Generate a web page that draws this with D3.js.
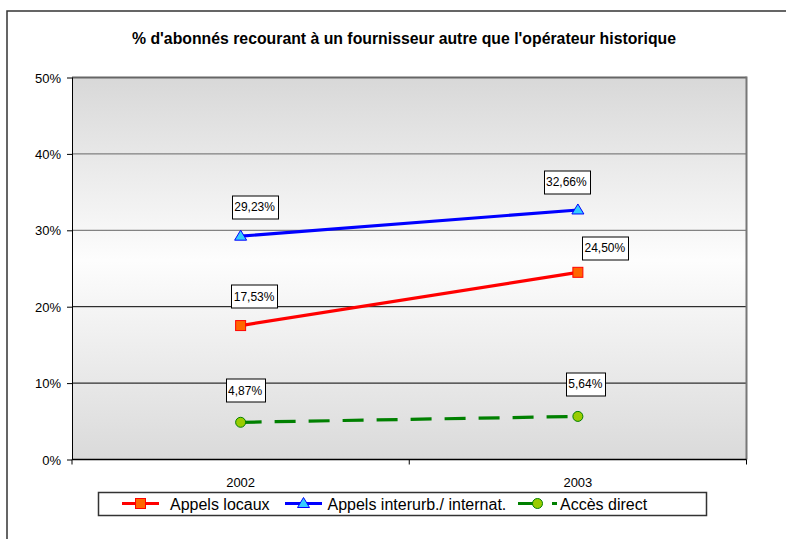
<!DOCTYPE html>
<html>
<head>
<meta charset="utf-8">
<script src="https://cdn.jsdelivr.net/npm/d3@7"></script>
<style>
  body { margin: 0; background: #fff; }
  text { font-family: Arial, "Liberation Sans", sans-serif; fill: #000; }
</style>
</head>
<body>
<div id="chart"></div>
<script>
// chart values
const years = ["2002", "2003"]
const locaux = [17.53, 24.50]
const interurb = [29.23, 32.66]
const direct = [4.87, 5.64]
const yTicks = [0, 10, 20, 30, 40, 50]
const seriesNames = ["Appels locaux", "Appels interurb./ internat.", "Accès direct"]
const title = "% d'abonnés recourant à un fournisseur autre que l'opérateur historique"

// label nudges (box centre relative to point), like the manual placement in the original
const labelNudge = [
    [[13.5, -29.5], [27, -24.5]],
    [[14, -29.5], [-11.5, -28.3]],
    [[4.5, -32], [7.5, -32.7]]
]

const W = 786, H = 539
const margin = { top: 77.5, right: 40, bottom: 79.5, left: 72 },
    width = 746.5 - margin.left,
    height = 459.5 - margin.top

const svg = d3.select("#chart").append("svg")
    .attr("width", W)
    .attr("height", H)

// outer frame
svg.append("rect")
    .attr("x", 7).attr("y", 11)
    .attr("width", 800).attr("height", 560)
    .attr("fill", "#fff")
    .attr("stroke", "#333").attr("stroke-width", 1.5)

// title
svg.append("text")
    .attr("x", 404).attr("y", 43.5)
    .attr("text-anchor", "middle")
    .style("font-weight", "bold")
    .style("font-size", "16px")
    .attr("textLength", 544)
    .attr("lengthAdjust", "spacingAndGlyphs")
    .text(title)

// plot background gradient
const defs = svg.append("defs")
const grad = defs.append("linearGradient")
    .attr("id", "bg").attr("x1", 0).attr("y1", 0).attr("x2", 0).attr("y2", 1)
grad.append("stop").attr("offset", "0%").attr("stop-color", "#d8d8d8")
grad.append("stop").attr("offset", "48%").attr("stop-color", "#fdfdfd")
grad.append("stop").attr("offset", "100%").attr("stop-color", "#dadada")

const g = svg.append("g")
    .attr("transform", "translate(" + margin.left + "," + margin.top + ")")

g.append("rect")
    .attr("width", width).attr("height", height)
    .attr("fill", "url(#bg)")

var x = d3.scaleBand()
    .domain(years)
    .range([0, width])
var y = d3.scaleLinear()
    .domain([0, 50])
    .range([height, 0])

// gridlines
g.append("g")
    .selectAll("line")
    .data(yTicks.slice(1))
    .enter()
    .append("line")
    .attr("x1", 0).attr("x2", width)
    .attr("y1", d => y(d)).attr("y2", d => y(d))
    .attr("stroke", d => d >= 30 ? "#666" : "#000")
    .attr("stroke-width", d => d == 50 ? 2 : 1)

// right border of plot area
g.append("line")
    .attr("x1", width).attr("x2", width)
    .attr("y1", -1).attr("y2", height)
    .attr("stroke", "#777").attr("stroke-width", 2)

// y axis
const yAxis = g.append("g")
    .call(d3.axisLeft(y).tickValues(yTicks).tickSize(5).tickPadding(6).tickFormat(d => d + "%"))
yAxis.select(".domain").attr("stroke", "#000").attr("d", "M0.5,0V" + height)
yAxis.selectAll("text").style("font-size", "13px").attr("dy", "0.36em")
yAxis.selectAll("line").attr("stroke", "#000")

// x axis with category separators
const xAxis = g.append("g")
    .attr("transform", "translate(0," + height + ")")
xAxis.append("line")
    .attr("x1", 0).attr("x2", width)
    .attr("stroke", "#000").attr("stroke-width", 1.5)
xAxis.selectAll(".sep")
    .data([0, 1, 2])
    .enter()
    .append("line")
    .attr("x1", d => d * x.step()).attr("x2", d => d * x.step())
    .attr("y1", 0).attr("y2", 5)
    .attr("stroke", "#000")
xAxis.selectAll(".lab")
    .data(years)
    .enter()
    .append("text")
    .attr("x", d => x(d) + x.bandwidth() / 2)
    .attr("y", 27)
    .attr("text-anchor", "middle")
    .style("font-size", "13px")
    .text(d => d)

const series = [
    { name: seriesNames[0], values: locaux, color: "#ff0000", fill: "#ff6600", marker: "square", dash: null },
    { name: seriesNames[1], values: interurb, color: "#0000ff", fill: "#33ccff", marker: "triangle", dash: null },
    { name: seriesNames[2], values: direct, color: "#008000", fill: "#99cc00", marker: "circle", dash: "21,13" }
]

function drawMarker(sel, s) {
    if (s.marker == "square") {
        sel.append("rect")
            .attr("x", -5).attr("y", -5).attr("width", 10).attr("height", 10)
            .attr("fill", s.fill).attr("stroke", s.color).attr("stroke-width", 1)
    } else if (s.marker == "triangle") {
        sel.append("path")
            .attr("d", "M0,-6L6,4L-6,4Z")
            .attr("fill", s.fill).attr("stroke", s.color).attr("stroke-width", 1)
    } else {
        sel.append("circle")
            .attr("r", 5)
            .attr("fill", s.fill).attr("stroke", s.color).attr("stroke-width", 1)
    }
}

const line = d3.line()
    .x((d, i) => x(years[i]) + x.bandwidth() / 2)
    .y(d => y(d))

series.forEach(function (s, si) {
    g.append("path")
        .datum(s.values)
        .attr("d", line)
        .attr("fill", "none")
        .attr("stroke", s.color)
        .attr("stroke-width", 3.2)
        .attr("stroke-dasharray", s.dash)

    s.values.forEach(function (v, i) {
        const px = x(years[i]) + x.bandwidth() / 2
        const py = y(v)
        const m = g.append("g").attr("transform", "translate(" + px + "," + py + ")")
        drawMarker(m, s)
    })
})

// data labels
series.forEach(function (s, si) {
    s.values.forEach(function (v, i) {
        const px = x(years[i]) + x.bandwidth() / 2
        const py = y(v)
        const cx = px + labelNudge[si][i][0]
        const cy = py + labelNudge[si][i][1]
        const lab = g.append("g")
        const t = lab.append("text")
            .attr("x", cx).attr("y", cy + 4.5)
            .attr("text-anchor", "middle")
            .style("font-size", "12px")
            .text(v.toFixed(2).replace(".", ",") + "%")
        const w = t.node().getComputedTextLength() + 5
        lab.insert("rect", "text")
            .attr("x", Math.round(cx - w / 2) + 0.5).attr("y", Math.round(cy - 11.5) + 0.5)
            .attr("width", Math.round(w)).attr("height", 23)
            .attr("fill", "#fff").attr("stroke", "#000").attr("stroke-width", 1)
    })
})

// legend
const leg = svg.append("g")
leg.append("rect")
    .attr("x", 98.5).attr("y", 492.5)
    .attr("width", 608).attr("height", 23)
    .attr("fill", "#fff").attr("stroke", "#333").attr("stroke-width", 1.5)

const legItems = [
    { x0: 122, x1: 159, tx: 170 },
    { x0: 285, x1: 322, tx: 327.5 },
    { x0: 518, x1: 557, tx: 560 }
]
series.forEach(function (s, i) {
    const it = legItems[i]
    leg.append("line")
        .attr("x1", it.x0).attr("x2", it.x1)
        .attr("y1", 503.5).attr("y2", 503.5)
        .attr("stroke", s.color).attr("stroke-width", 3.2)
        .attr("stroke-dasharray", s.dash)
    const m = leg.append("g").attr("transform", "translate(" + (it.x0 + it.x1) / 2 + ",503.5)")
    drawMarker(m, s)
    leg.append("text")
        .attr("x", it.tx).attr("y", 509.5)
        .style("font-size", "16px")
        .text(s.name)
})
</script>
</body>
</html>
